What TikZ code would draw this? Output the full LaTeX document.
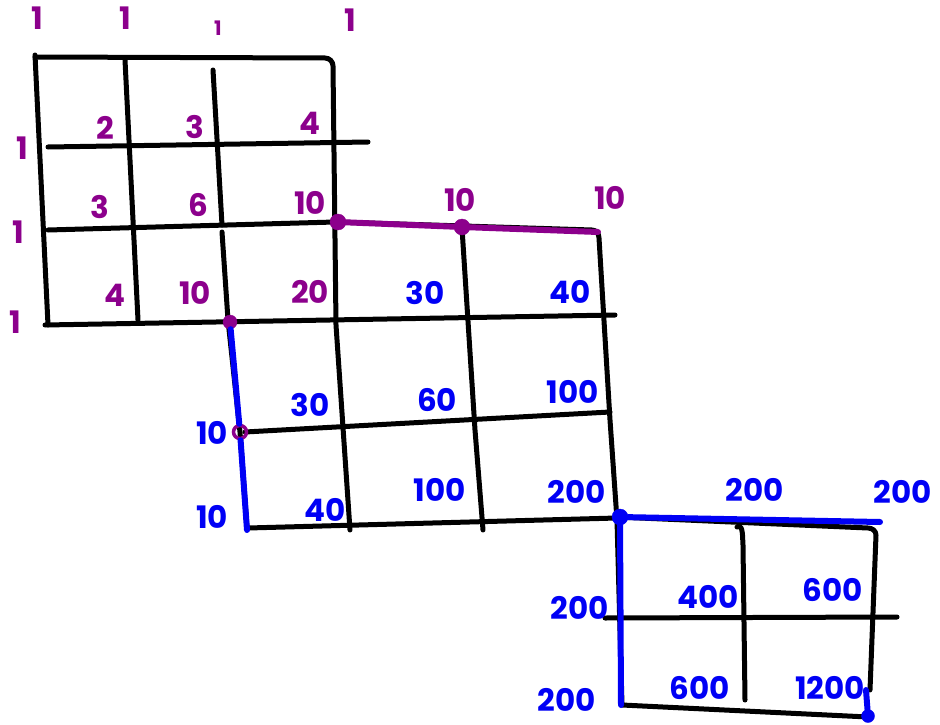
\documentclass[tikz,border=0pt]{standalone}
\usepackage{fontspec}
\setmainfont{Poppins}
\definecolor{inkpurple}{RGB}{140,0,140}
\definecolor{inkblue}{RGB}{0,0,245}

\begin{document}
\begin{tikzpicture}[
x=1pt, y=-1pt,
grid/.style={line width=5pt, line cap=round, line join=round},
pnum/.style={text=inkpurple, font=\fontsize{31}{34}\selectfont\bfseries, inner sep=0pt},
bnum/.style={text=inkblue, font=\fontsize{31}{34}\selectfont\bfseries, inner sep=0pt},
dot/.style={circle, fill=#1, draw=#1, inner sep=0pt, minimum size=16pt},
path/.style={line width=6pt, line cap=round, draw=#1}
]
\useasboundingbox (0,0) rectangle (940,725);

% Grid lines (top left block)
\draw[grid] (35,55) -- (48,325);
\draw[grid] (125,60) -- (138,320);
\draw[grid] (213,70) -- (222,225);
\draw[grid] (222,232) -- (228,320);
\draw[grid] (35,57) -- (325,58) to[out=0,in=90] (333,66) -- (336,325) -- (350,530);
\draw[grid] (48,147) -- (368,142);
\draw[grid] (48,230) -- (335,222);
\draw[grid] (45,325) -- (615,315);

% Grid lines (middle block)
\draw[grid] (335,222) -- (592,230) to[out=0,in=90] (599,238) -- (610,420) -- (617,520) -- (622,705) -- (868,717);
\draw[grid] (462,228) -- (475,430) -- (483,530);
\draw[grid] (228,320) -- (240,432) -- (247,528);
\draw[grid] (245,432) -- (610,412);
\draw[grid] (248,528) -- (617,518);

% Grid lines (bottom block)
\draw[grid] (617,517) -- (868,528) to[out=0,in=90] (876,535) -- (870,690);
\draw[grid] (737,527) to[out=30,in=95] (743,545) -- (745,700);
\draw[grid] (605,618) -- (897,617);

% Dots
\node[dot=inkpurple] (p1) at (338,222) {};
\node[dot=inkpurple] (p2) at (462,227) {};
\coordinate (p3) at (598,232);
\node[dot=inkpurple, minimum size=14pt] (p4) at (230,322) {};
\node[circle, draw=inkpurple, line width=3.5pt, inner sep=0pt, minimum size=13pt] (p5) at (240,432) {};
\coordinate (b1) at (247,530);
\node[dot=inkblue] (b2) at (620,517) {};
\coordinate (b3) at (880,522);
\coordinate (b4) at (621,705);
\node[dot=inkblue, minimum size=13pt] (b5) at (868,716) {};
\coordinate (b6) at (866,690);

% Paths
\draw[path=inkpurple] (p1) -- (p2) -- (p3);
\draw[path=inkblue] (p4) -- (p5) -- (b1);
\draw[path=inkblue] (b2) -- (b3);
\draw[path=inkblue] (b2) -- (b4);
\draw[path=inkblue] (b6) -- (b5);

% Labels (purple)
\node[pnum] (t1) at (37,18) {1};
\node[pnum] (t2) at (125,18) {1};
\node[pnum, font=\fontsize{20}{24}\selectfont\bfseries] (t3) at (218,28) {1};
\node[pnum] (t4) at (350,20) {1};
\node[pnum] (l1) at (22,148) {1};
\node[pnum] (l2) at (18,232) {1};
\node[pnum] (l3) at (15,322) {1};
\node[pnum] (a11) at (105,128) {2};
\node[pnum] (a12) at (195,127) {3};
\node[pnum] (a13) at (310,123) {4};
\node[pnum] (a21) at (100,207) {3};
\node[pnum] (a22) at (198,205) {6};
\node[pnum] (a23) at (310,203) {10};
\node[pnum] (a31) at (115,295) {4};
\node[pnum] (a32) at (195,293) {10};
\node[pnum] (a33) at (310,292) {20};
\node[pnum] (a24) at (460,200) {10};
\node[pnum] (a25) at (610,198) {10};

% Labels (blue)
\node[bnum] (c34) at (425,293) {30};
\node[bnum] (c35) at (570,292) {40};
\node[bnum] (c43) at (310,405) {30};
\node[bnum] (c44) at (437,400) {60};
\node[bnum] (c45) at (573,392) {100};
\node[bnum] (c53) at (325,510) {40};
\node[bnum] (c54) at (440,490) {100};
\node[bnum] (c55) at (577,492) {200};
\node[bnum] (c42) at (212,433) {10};
\node[bnum] (c52) at (212,517) {10};
\node[bnum] (c56) at (755,490) {200};
\node[bnum] (c57) at (903,492) {200};
\node[bnum] (c65) at (580,608) {200};
\node[bnum] (c75) at (567,700) {200};
\node[bnum] (c66) at (708,597) {400};
\node[bnum] (c67) at (833,590) {600};
\node[bnum] (c76) at (700,688) {600};
\node[bnum] (c77) at (830,688) {1200};
\end{tikzpicture}
\end{document}
